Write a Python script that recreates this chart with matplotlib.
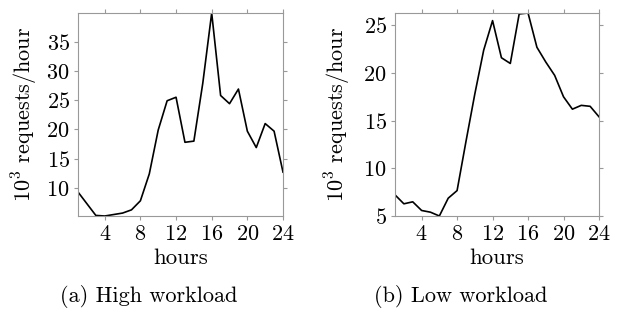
import numpy as np
import matplotlib
matplotlib.use("Agg")
import matplotlib.pyplot as plt

plt.rcParams['font.family'] = 'cmr10'
plt.rcParams['mathtext.fontset'] = 'cm'
plt.rcParams['axes.formatter.use_mathtext'] = True

hours = np.arange(1, 25)
high = [9.3, 7.3, 5.3, 5.2, 5.45, 5.7, 6.25, 7.8, 12.4, 19.9, 24.9, 25.5,
        17.8, 18.0, 27.9, 39.9, 25.8, 24.4, 26.9, 19.7, 16.9, 21.0, 19.7, 12.7]
low = [7.2, 6.26, 6.47, 5.56, 5.38, 4.98, 6.85, 7.65, 12.8, 17.8, 22.4, 25.5,
       21.6, 21.0, 26.2, 26.3, 22.7, 21.15, 19.75, 17.5, 16.2, 16.6, 16.5, 15.4]
xticks = [4, 8, 12, 16, 20, 24]
high_yticks = [10, 15, 20, 25, 30, 35]
low_yticks = [5, 10, 15, 20, 25]
captions = ['(a) High workload', '(b) Low workload']

fig = plt.figure(figsize=(6.19, 3.11), dpi=100)
W, H = 619, 311
boxes = [(78, 13, 283, 216), (395, 13, 599, 216)]
series = [high, low]
yts = [high_yticks, low_yticks]
cap_x = [149, 461]
ylab_x = [25, 338]

for i in range(2):
    l, t, r, b = boxes[i]
    ax = fig.add_axes([l / W, 1 - b / H, (r - l) / W, (b - t) / H])
    y = series[i]
    ax.plot(hours, y, color='black', lw=1.2)
    ax.set_xlim(1, 24)
    ax.set_ylim(min(y), max(y))
    ax.set_xticks(xticks)
    ax.set_yticks(yts[i])
    for s in ax.spines.values():
        s.set_color('#999999')
        s.set_linewidth(0.8)
    ax.tick_params(direction='out', length=3, width=0.8, color='#999999',
                   top=True, right=True, labelsize=16, pad=3)
    ax.set_xlabel('hours', fontsize=16.5, va='center')
    ax.xaxis.set_label_coords(0.5, -(258 - b) / (b - t))
    ax.set_ylabel(r'$10^3$ requests/hour', fontsize=16, va='center')
    ax.yaxis.set_label_coords((ylab_x[i] - l) / (r - l), 0.5)
    fig.text(cap_x[i] / W, 1 - 297 / H, captions[i], ha='center', va='center',
             fontsize=16)

fig.savefig('out.png', dpi=100)
